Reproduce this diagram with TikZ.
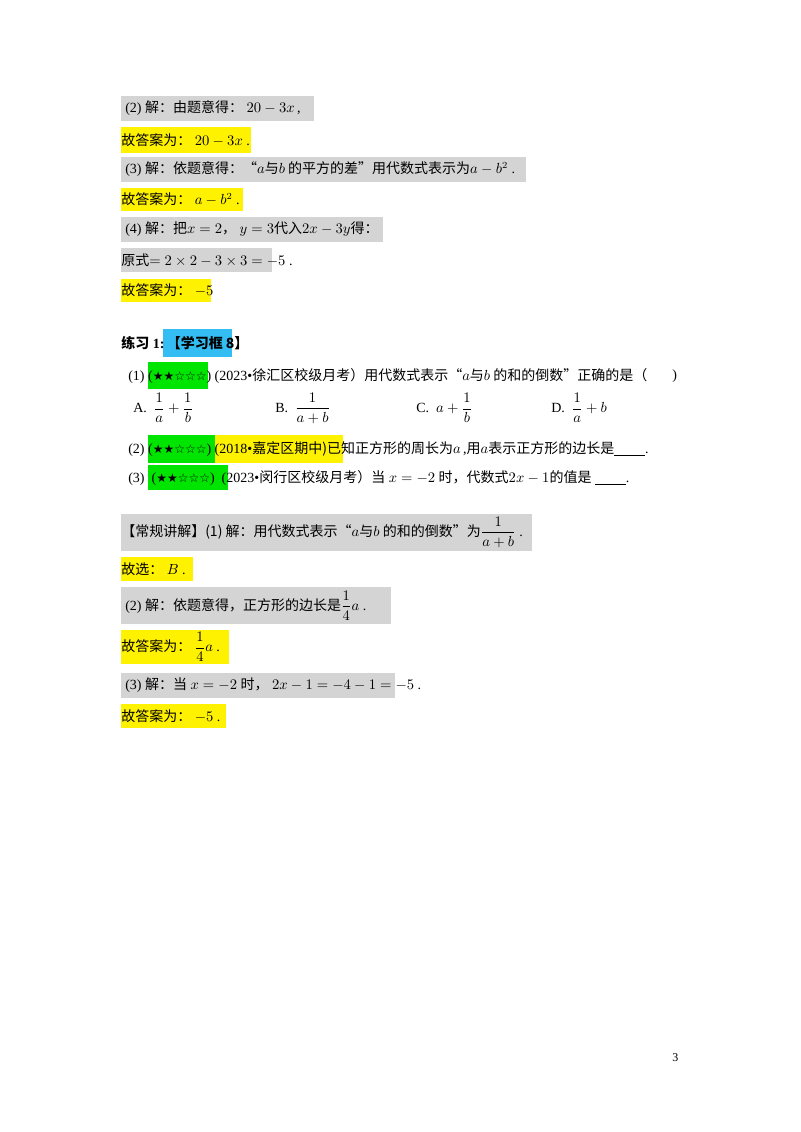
\documentclass[tikz,border=0pt]{standalone}
\usepackage{amsmath}
\usepackage{fontspec}
\setmainfont{Liberation Serif}
\newfontfamily\cjk{Noto Sans CJK SC}
\newfontfamily\symf{DejaVu Sans}
\newcommand{\zh}[1]{{\cjk #1}}
\newcommand{\stars}{{\symf\fontsize{9}{10}\selectfont ★★☆☆☆}}
\begin{document}
\begin{tikzpicture}[x=0.75pt,y=-0.75pt,
  gbox/.style={fill=black!17,draw=none},
  ybox/.style={fill=yellow,draw=none},
  cbox/.style={fill=cyan!80!white,draw=none},
  grbox/.style={fill=green!90!black,draw=none},
  t/.style={anchor=west,inner sep=0pt,font=\fontsize{10.5}{12}\selectfont}]
\useasboundingbox (0,0) rectangle (800,1132);
\fill[white] (0,0) rectangle (800,1132);
% top solutions
\fill[gbox] (121,96) rectangle (314,121);
\node[t] (r1) at (125,108.5) {(2) \zh{解：由题意得：} $20-3x$\,,};
\fill[ybox] (121,127) rectangle (251,153);
\node[t] (r2) at (121,140) {\zh{故答案为：} $20-3x$ .};
\fill[gbox] (121,157) rectangle (526,182);
\node[t] (r3) at (125,169.5) {(3) \zh{解：依题意得：“}$a$\zh{与}$b$\zh{ 的平方的差”用代数式表示为}$a-b^2$ .};
\fill[ybox] (121,188) rectangle (243,211);
\node[t] (r4) at (121,199.5) {\zh{故答案为：} $a-b^2$ .};
\fill[gbox] (121,217) rectangle (383,242);
\node[t] (r5) at (125,229.5) {(4) \zh{解：把}$x=2$\zh{，} $y=3$\zh{代入}$2x-3y$\zh{得：}};
\fill[gbox] (121,248) rectangle (272,272);
\node[t] (r6) at (121,260) {\zh{原式}$=2\times2-3\times3=-5$ .};
\fill[ybox] (121,279) rectangle (211,302);
\node[t] (r7) at (121,290.5) {\zh{故答案为：} $-5$};
% exercise
\fill[cbox] (163,329) rectangle (232,357);
\node[t] (ex) at (121,343) {\textbf{\zh{\bfseries 练习} 1:}\,\zh{\bfseries 【学习框 8】}};
\fill[grbox] (148,362) rectangle (208,389);
\node[t] (q1) at (128,376) {(1) (\stars) (2023\textbullet\zh{徐汇区校级月考）用代数式表示“}$a$\zh{与}$b$\zh{ 的和的倒数”正确的是（}};
\node[t] (q1p) at (672,376) {)};
\node[t] (oA) at (133,408) {A.\ \ $\dfrac1a+\dfrac1b$};
\node[t] (oB) at (275,408) {B.\ \ $\dfrac1{a+b}$};
\node[t] (oC) at (416,408) {C.\ \ $a+\dfrac1b$};
\node[t] (oD) at (551,408) {D.\ \ $\dfrac1a+b$};
\fill[grbox] (148,435) rectangle (215,463);
\fill[ybox] (215,435) rectangle (343,463);
\node[t] (q2) at (128,449) {(2) (\stars) (2018\textbullet\zh{嘉定区期中)已知正方形的周长为}$a$\,,\zh{用}$a$\zh{表示正方形的边长是}\underline{\hspace{2.2em}}.};
\fill[grbox] (148,465) rectangle (228,490);
\node[t] (q3) at (128,477.5) {(3) \ (\stars) \ (2023\textbullet\zh{闵行区校级月考）当} $x=-2$ \zh{时，代数式}$2x-1$\zh{的值是} \underline{\hspace{2.2em}}.};
% answers
\fill[gbox] (121,514) rectangle (532,551);
\node[t] (a1) at (121,532) {\zh{【常规讲解】(1) 解：用代数式表示“}$a$\zh{与}$b$\zh{ 的和的倒数”为}$\dfrac1{a+b}$ .};
\fill[ybox] (121,557) rectangle (193,581);
\node[t] (a2) at (121,569) {\zh{故选：} $B$ .};
\fill[gbox] (121,587) rectangle (391,624);
\node[t] (a3) at (125,605.5) {(2) \zh{解：依题意得，正方形的边长是}$\dfrac14a$ .};
\fill[ybox] (121,630) rectangle (229,664);
\node[t] (a4) at (121,647) {\zh{故答案为：} $\dfrac14a$ .};
\fill[gbox] (121,673) rectangle (395,698);
\node[t] (a5) at (125,685.5) {(3) \zh{解：当} $x=-2$ \zh{时，} $2x-1=-4-1=-5$ .};
\fill[ybox] (121,704) rectangle (226,728);
\node[t] (a6) at (121,716) {\zh{故答案为：} $-5$ .};
\node[t,font=\fontsize{9}{10}\selectfont] (pg) at (672,1058) {3};
\end{tikzpicture}
\end{document}
